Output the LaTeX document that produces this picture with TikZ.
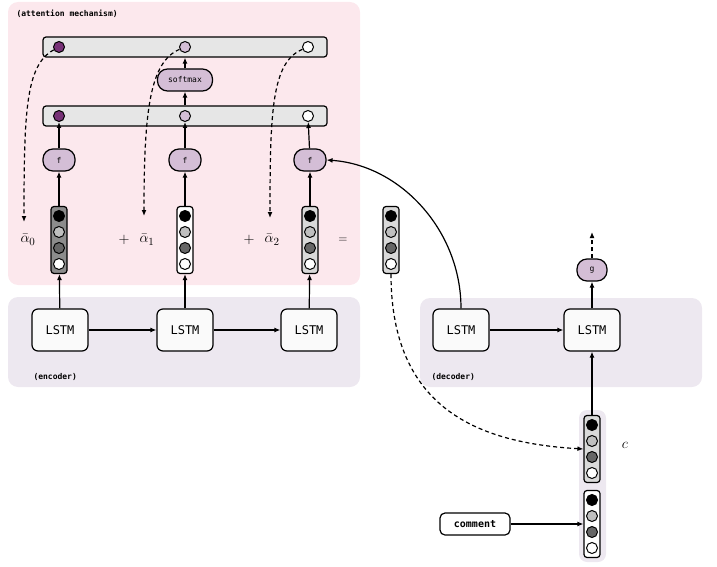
\documentclass[tikz,border=0pt]{standalone}
\usepackage{fontspec}
\setmainfont{Latin Modern Roman}
\setmonofont{DejaVu Sans Mono}
\usetikzlibrary{arrows.meta}
\definecolor{pinkbg}{RGB}{252,232,237}
\definecolor{lavbg}{RGB}{237,232,240}
\definecolor{fcol}{RGB}{212,190,214}
\definecolor{purp}{RGB}{120,50,120}
\definecolor{barg}{RGB}{230,230,230}
\begin{document}
\begin{tikzpicture}[x=1pt,y=-1pt,
  >={Latex[length=6pt,width=5pt]},
  lstm/.style={draw,line width=1.2pt,rounded corners=6pt,fill=white!96!gray,minimum width=56pt,minimum height=42pt,font=\ttfamily\fontsize{12}{12}\selectfont},
  fn/.style={draw,line width=1.2pt,rounded corners=10pt,fill=fcol,minimum width=32pt,minimum height=22pt,font=\ttfamily\fontsize{8}{8}\selectfont,inner sep=1pt},
  bar/.style={draw,line width=1.2pt,rounded corners=3pt,fill=barg,minimum width=284pt,minimum height=20pt},
  dot/.style={circle,draw,line width=1pt,minimum size=11pt,inner sep=0pt},
  vec/.style={draw,line width=1.2pt,rounded corners=3pt,minimum width=16pt,minimum height=67pt},
  lbl/.style={anchor=west,font=\ttfamily\bfseries\fontsize{8}{8}\selectfont},
  math/.style={font=\fontsize{15}{15}\selectfont,inner sep=1pt},
  conn/.style={->,line width=1.2pt},
  dconn/.style={->,line width=1.2pt,dash pattern=on 4pt off 3pt}]
\useasboundingbox (0,0) rectangle (717,567);
% backgrounds
\fill[pinkbg,rounded corners=10pt] (8,2) rectangle (360,285);
\fill[lavbg,rounded corners=10pt] (8,297) rectangle (360,387);
\fill[lavbg,rounded corners=10pt] (420,298) rectangle (702,387);
\fill[lavbg,rounded corners=8pt] (579,410) rectangle (606,562);
\node[lbl] (tatt) at (13,14) {(attention mechanism)};
\node[lbl] (tenc) at (30,377) {(encoder)};
\node[lbl] (tdec) at (428,377) {(decoder)};
% bars
\node[bar] (b1) at (185,47) {};
\node[bar] (b2) at (185,116) {};
\node[dot,fill=purp] (t0) at (59,47) {};
\node[dot,fill=fcol] (t1) at (185,47) {};
\node[dot,fill=white] (t2) at (308,47) {};
\node[dot,fill=purp] (s0) at (59,116) {};
\node[dot,fill=fcol] (s1) at (185,116) {};
\node[dot,fill=white] (s2) at (308,116) {};
\node[fn,minimum width=55pt] (sm) at (185,80) {softmax};
\node[fn] (f0) at (59,160) {f};
\node[fn] (f1) at (185,160) {f};
\node[fn] (f2) at (310,160) {f};
% vectors
\newcommand{\myvec}[4]{%
  \node[vec,fill=#4] (#1) at (#2,#3) {};
  \node[dot,fill=black] (#1a) at (#2,#3-24) {};
  \node[dot,fill=black!25] (#1b) at (#2,#3-8) {};
  \node[dot,fill=black!60] (#1c) at (#2,#3+8) {};
  \node[dot,fill=white] (#1d) at (#2,#3+24) {};}
\myvec{v0}{59}{240}{black!45}
\myvec{v1}{185}{240}{white}
\myvec{v2}{310}{240}{black!15}
\myvec{vc}{391}{240}{black!15}
\myvec{cv}{592}{449}{black!15}
\myvec{mv}{592}{524}{white}
% alpha labels
\node[math] (a0) at (28,240) {$\bar\alpha_0$};
\node[math] (p1) at (124,240) {$+$};
\node[math] (a1) at (147,240) {$\bar\alpha_1$};
\node[math] (p2) at (249,240) {$+$};
\node[math] (a2) at (272,240) {$\bar\alpha_2$};
\node[math,font=\fontsize{12}{12}\selectfont] (eq) at (343,240) {$=$};
\node[math] (cl) at (625,445) {$c$};
% LSTMs
\node[lstm] (e0) at (60,330) {LSTM};
\node[lstm] (e1) at (185,330) {LSTM};
\node[lstm] (e2) at (309,330) {LSTM};
\node[lstm] (d0) at (461,330) {LSTM};
\node[lstm] (d1) at (592,330) {LSTM};
\node[fn,minimum width=30pt] (g) at (592,270) {g};
\node[draw,line width=1.2pt,rounded corners=5pt,fill=white,minimum width=70pt,minimum height=22pt,font=\ttfamily\bfseries\fontsize{10}{10}\selectfont] (cm) at (475,524) {comment};
\coordinate (gout) at (592,232);
% connectors
\draw[conn] (e0) -- (e1);
\draw[conn] (e1) -- (e2);
\draw[conn] (d0) -- (d1);
\foreach \i in {0,1,2}{
  \draw[conn] (e\i) -- (v\i);
  \draw[conn] (v\i) -- (f\i);
}
\draw[conn] (f0) -- (s0);
\draw[conn] (f1) -- (s1);
\draw[conn] (f2) -- (s2);
\draw[conn] (b2.north -| sm) -- (sm);
\draw[conn] (sm) -- (b1.south -| sm);
\draw[conn] (d0.north) .. controls (461,230) and (400,165) .. (f2.east);
\draw[conn] (cv) -- (d1);
\draw[conn] (d1) -- (g);
\draw[dconn] (g) -- (gout);
\draw[conn] (cm) -- (mv.west);
\draw[dconn] (t0) .. controls (26,65) and (24,110) .. (24,222);
\draw[dconn] (t1) .. controls (150,62) and (144,110) .. (144,216);
\draw[dconn] (t2) .. controls (272,62) and (270,110) .. (270,218);
\draw[dconn] (vc.south) .. controls (391,410) and (480,443) .. (cv.west);
\end{tikzpicture}
\end{document}
